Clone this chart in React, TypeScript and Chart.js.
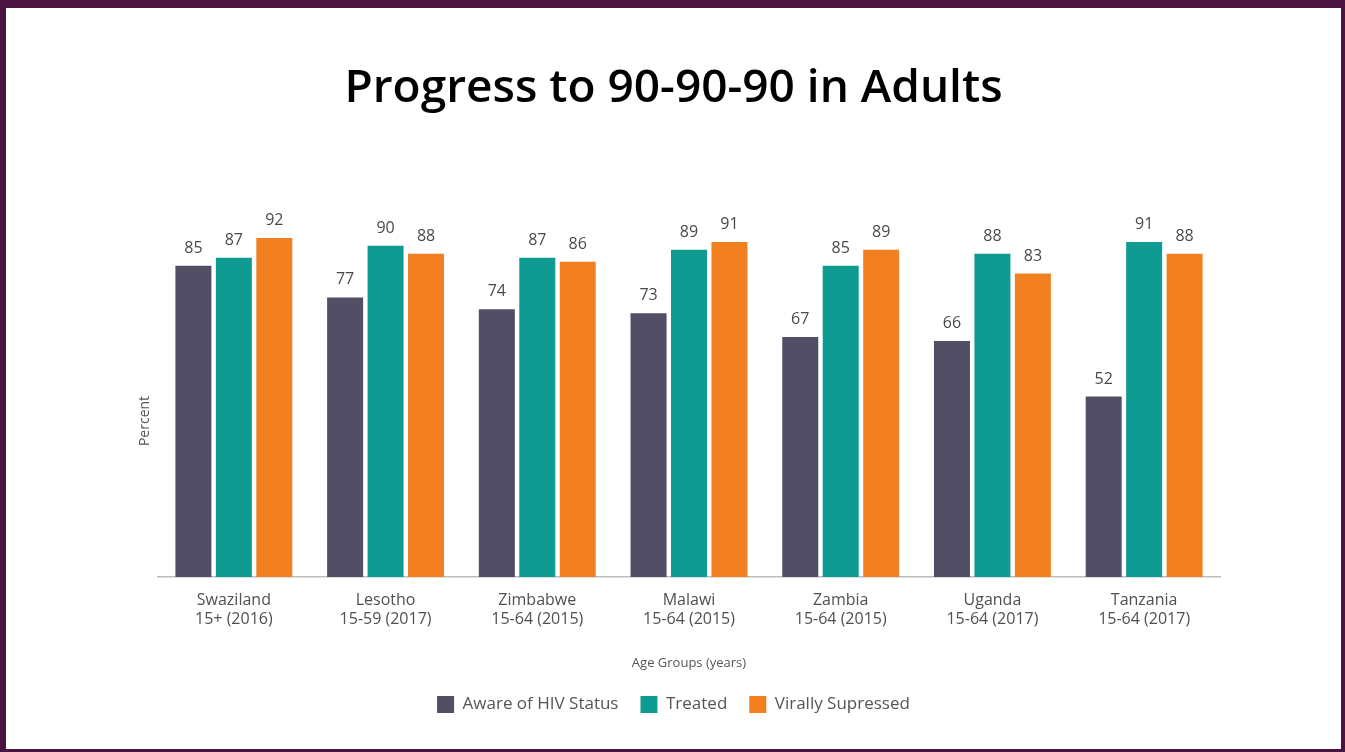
import React, { useEffect, useRef } from "react";
import { Chart, registerables } from "chart.js";

Chart.register(...registerables);

const categories: string[][] = [
  ["Swaziland", "15+ (2016)"],
  ["Lesotho", "15-59 (2017)"],
  ["Zimbabwe", "15-64 (2015)"],
  ["Malawi", "15-64 (2015)"],
  ["Zambia", "15-64 (2015)"],
  ["Uganda", "15-64 (2017)"],
  ["Tanzania", "15-64 (2017)"],
];
const aware = [85, 77, 74, 73, 67, 66, 52];
const treated = [87, 90, 87, 89, 85, 88, 91];
const suppressed = [92, 88, 86, 91, 89, 83, 88];
const seriesNames = ["Aware of HIV Status", "Treated", "Virally Supressed"];
const yAxisTitle = "Percent";

const FONT = "'Open Sans', 'Noto Sans', sans-serif";

const valueLabels = {
  id: "valueLabels",
  afterDatasetsDraw(chart: any) {
    const ctx = chart.ctx;
    ctx.save();
    ctx.font = `16px ${FONT}`;
    ctx.fillStyle = "#4a4a4a";
    ctx.textAlign = "center";
    ctx.textBaseline = "alphabetic";
    chart.data.datasets.forEach((ds: any, di: number) => {
      const meta = chart.getDatasetMeta(di);
      meta.data.forEach((bar: any, i: number) => {
        ctx.fillText(String(ds.data[i]), bar.x, bar.y - 13);
      });
    });
    // y-axis title
    const { left, bottom } = chart.chartArea;
    ctx.font = `14px ${FONT}`;
    ctx.fillStyle = "#555555";
    ctx.translate(left - 13, bottom - 156);
    ctx.rotate(-Math.PI / 2);
    ctx.textBaseline = "middle";
    ctx.fillText(yAxisTitle, 0, 0);
    ctx.restore();
  },
};

export default function App() {
  const ref = useRef<HTMLCanvasElement>(null);
  useEffect(() => {
    if (!ref.current) return;
    const chart = new Chart(ref.current, {
      type: "bar",
      data: {
        labels: categories,
        datasets: [
          { label: seriesNames[0], data: aware, backgroundColor: "#524e66" },
          { label: seriesNames[1], data: treated, backgroundColor: "#0f9b92" },
          { label: seriesNames[2], data: suppressed, backgroundColor: "#f38020" },
        ],
      },
      options: {
        animation: false,
        responsive: false,
        maintainAspectRatio: false,
        datasets: { bar: { categoryPercentage: 0.8, barPercentage: 0.89 } },
        layout: { padding: { left: 0, right: 0, top: 0, bottom: 26 } },
        plugins: {
          title: {
            display: true,
            text: "Progress to 90-90-90 in Adults",
            color: "#000000",
            font: { family: FONT, size: 46, weight: "600" },
            padding: { top: 53, bottom: 90 },
          },
          legend: {
            display: true,
            position: "bottom",
            labels: {
              boxWidth: 17,
              boxHeight: 17,
              padding: 22,
              color: "#555555",
              font: { family: FONT, size: 17 },
            },
          },
          tooltip: { enabled: false },
        },
        scales: {
          x: {
            grid: { display: false, drawTicks: false },
            border: { display: true, color: "#bdbdbd", width: 1.5 },
            ticks: {
              color: "#505050",
              font: { family: FONT, size: 16, lineHeight: 1.2 },
              padding: 14,
              maxRotation: 0,
              autoSkip: false,
            },
            title: {
              display: true,
              text: "Age Groups (years)",
              color: "#555555",
              font: { family: FONT, size: 13 },
              padding: { top: 12, bottom: 3 },
            },
          },
          y: {
            position: "left",
            min: 6.5,
            max: 100,
            grid: { display: false, drawTicks: false },
            border: { display: false },
            ticks: { display: false },
            afterFit: (scale: any) => {
              scale.width = 152;
            },
          },
          yRight: {
            type: "linear",
            position: "right",
            min: 0,
            max: 1,
            grid: { display: false, drawTicks: false },
            border: { display: false },
            ticks: { display: false },
            afterFit: (scale: any) => {
              scale.width = 121;
            },
          },
        },
      },
      plugins: [valueLabels],
    });
    return () => chart.destroy();
  }, []);

  return (
    <div
      style={{
        position: "fixed",
        left: 0,
        top: 0,
        width: 1345,
        height: 752,
        boxSizing: "border-box",
        borderStyle: "solid",
        borderColor: "#4a1441",
        borderWidth: "8px 4px 3px 6px",
        background: "#ffffff",
      }}
    >
      <canvas ref={ref} width={1335} height={741} style={{ display: "block" }} />
    </div>
  );
}
